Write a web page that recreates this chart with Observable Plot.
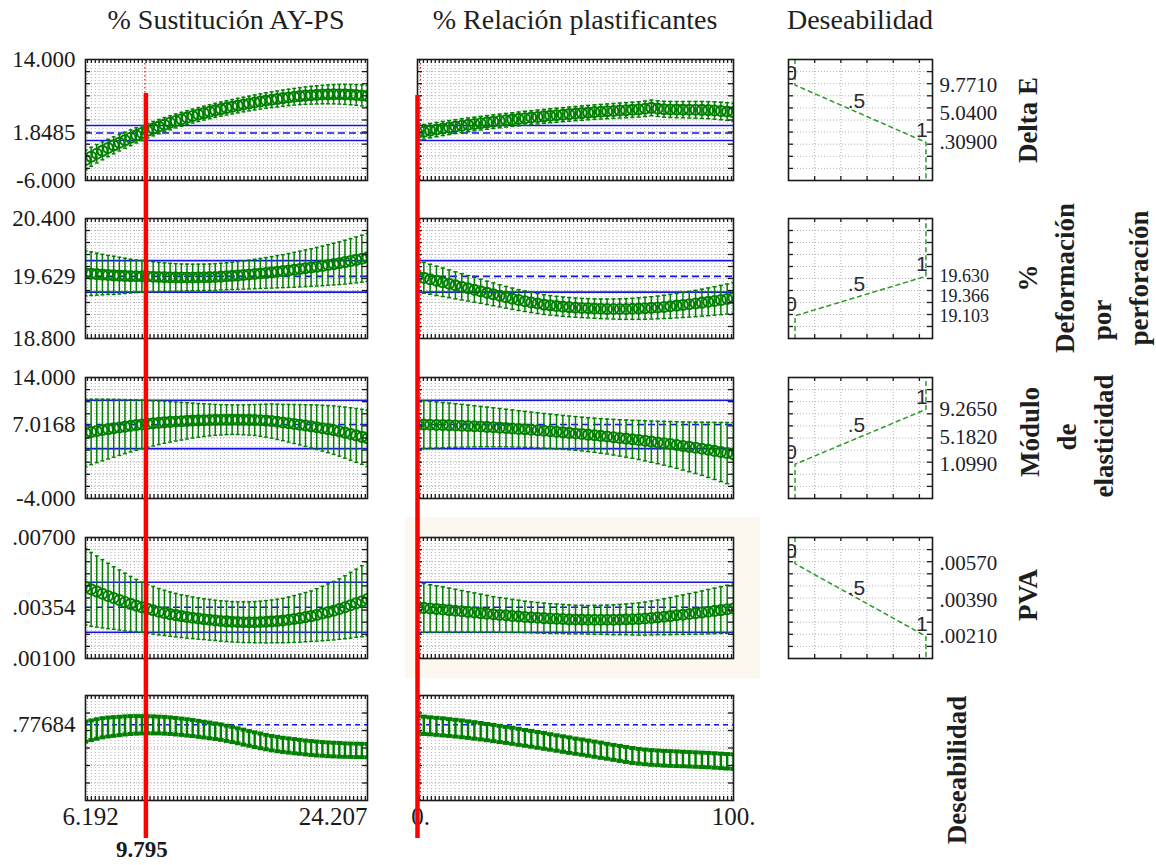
<!DOCTYPE html>
<html>
<head>
<meta charset="utf-8">
<script src="https://cdn.jsdelivr.net/npm/d3@7"></script>
<script src="https://cdn.jsdelivr.net/npm/@observablehq/plot@0.6"></script>
<style>
  body { margin: 0; background: #fff; }
  #fig { position: relative; width: 1156px; height: 865px; overflow: hidden; background: #fff;
         font-family: "Liberation Serif", "Times New Roman", serif; color: #1e1e1e; }
  #fig svg { position: absolute; overflow: visible; }
  .title { position: absolute; font-size: 28px; line-height: 1; white-space: nowrap; transform: translate(-50%, -50%); }
  .name { position: absolute; font-size: 27px; font-weight: bold; line-height: 1; white-space: nowrap;
          transform: translate(-50%, -50%) rotate(-90deg); }
  .highlight { position: absolute; background: #fdf8ef; }
</style>
</head>
<body>
<div id="fig"></div>
<script>
// ---- Factor settings of the profile ----
const sustLevels = [
  6.192, 6.552, 6.913, 7.273, 7.633, 7.994, 8.354, 8.714, 9.074, 9.435,
  9.795, 10.155, 10.516, 10.876, 11.236, 11.597, 11.957, 12.317, 12.677, 13.038,
  13.398, 13.758, 14.119, 14.479, 14.839, 15.200, 15.560, 15.920, 16.280, 16.641,
  17.001, 17.361, 17.722, 18.082, 18.442, 18.803, 19.163, 19.523, 19.883, 20.244,
  20.604, 20.964, 21.325, 21.685, 22.045, 22.406, 22.766, 23.126, 23.486, 23.847,
  24.207];
const relLevels = [
  0, 2, 4, 6, 8, 10, 12, 14, 16, 18,
  20, 22, 24, 26, 28, 30, 32, 34, 36, 38,
  40, 42, 44, 46, 48, 50, 52, 54, 56, 58,
  60, 62, 64, 66, 68, 70, 72, 74, 76, 78,
  80, 82, 84, 86, 88, 90, 92, 94, 96, 98,
  100];
const sustDomain = [6.192, 24.207];
const relDomain = [0, 100];
const sustCurrent = 9.795;
const relCurrent = 0;
const sustTickLabels = ["6.192", "24.207"];
const relTickLabels = ["0.", "100."];
const factorTitles = ["% Sustitución AY-PS", "% Relación plastificantes", "Deseabilidad"];

// ---- Responses ----
const responseNames = [["Delta E"], ["%", "Deformación", "por", "perforación"], ["Módulo", "de", "elasticidad"], ["PVA"], ["Deseabilidad"]];
const responseDomains = [[-6, 14], [18.8, 20.4], [-4, 14], [0.001, 0.007], [0.2, 1.0]];
const currentValues = [1.8485, 19.629, 7.0168, 0.00354, 0.77684];
const axisLabels = [["-6.000", "1.8485", "14.000"], ["18.800", "19.629", "20.400"], ["-4.000", "7.0168", "14.000"], [".00100", ".00354", ".00700"], [".77684"]];
const intervalLimits = [[0.62, 3.08], [19.419, 19.839], [3.42, 10.61], [0.0023, 0.00478], null];

// Desirability functions: response value at d = 0, .5, 1
const desirLimits = [[9.771, 5.04, 0.309], [19.103, 19.366, 19.63], [1.099, 5.182, 9.265], [0.0057, 0.0039, 0.0021]];
const desirLimitLabels = [["9.7710", "5.0400", ".30900"], ["19.103", "19.366", "19.630"], ["1.0990", "5.1820", "9.2650"], [".00570", ".00390", ".00210"]];
const desirLevels = [0, 0.5, 1];
const desirLevelLabels = ["0", ".5", "1"];

// ---- Predicted responses (mean and half-width of interval) ----
const deltaESust = [
  -2.60, -2.08, -1.58, -1.10, -0.64, -0.19, 0.24, 0.66, 1.06, 1.46,
  1.8485, 2.22, 2.57, 2.91, 3.23, 3.54, 3.84, 4.12, 4.39, 4.65,
  4.90, 5.14, 5.37, 5.59, 5.80, 6.00, 6.19, 6.38, 6.56, 6.73,
  6.90, 7.06, 7.21, 7.35, 7.48, 7.61, 7.73, 7.84, 7.94, 8.03,
  8.10, 8.16, 8.21, 8.24, 8.26, 8.26, 8.24, 8.20, 8.14, 8.06,
  7.96];
const deltaESustErr = [
  1.60, 1.56, 1.52, 1.48, 1.44, 1.40, 1.36, 1.32, 1.29, 1.26,
  1.23, 1.21, 1.19, 1.18, 1.17, 1.16, 1.15, 1.15, 1.15, 1.15,
  1.15, 1.15, 1.16, 1.16, 1.17, 1.18, 1.19, 1.20, 1.21, 1.22,
  1.24, 1.26, 1.28, 1.30, 1.32, 1.34, 1.36, 1.38, 1.41, 1.44,
  1.47, 1.50, 1.53, 1.56, 1.59, 1.62, 1.65, 1.68, 1.71, 1.74,
  1.77];
const deltaERel = [
  1.8485, 2.05, 2.24, 2.42, 2.59, 2.75, 2.91, 3.06, 3.20, 3.34,
  3.47, 3.60, 3.72, 3.84, 3.96, 4.07, 4.18, 4.29, 4.40, 4.50,
  4.60, 4.70, 4.79, 4.88, 4.97, 5.06, 5.14, 5.22, 5.30, 5.37,
  5.44, 5.50, 5.56, 5.62, 5.68, 5.75, 5.85, 6.00, 5.88, 5.78,
  5.74, 5.72, 5.71, 5.70, 5.69, 5.67, 5.63, 5.57, 5.49, 5.40,
  5.30];
const deltaERelErr = [
  1.23, 1.21, 1.19, 1.18, 1.17, 1.16, 1.15, 1.14, 1.14, 1.13,
  1.13, 1.13, 1.13, 1.13, 1.13, 1.13, 1.14, 1.14, 1.14, 1.15,
  1.15, 1.16, 1.16, 1.17, 1.17, 1.18, 1.19, 1.19, 1.20, 1.21,
  1.22, 1.23, 1.24, 1.25, 1.26, 1.27, 1.28, 1.29, 1.30, 1.31,
  1.33, 1.34, 1.35, 1.37, 1.38, 1.40, 1.41, 1.43, 1.45, 1.46,
  1.48];

const deformSust = [
  19.670, 19.664, 19.658, 19.652, 19.647, 19.642, 19.638, 19.635, 19.632, 19.630,
  19.629, 19.626, 19.623, 19.620, 19.618, 19.616, 19.615, 19.614, 19.614, 19.614,
  19.615, 19.616, 19.618, 19.621, 19.625, 19.630, 19.635, 19.641, 19.647, 19.653,
  19.660, 19.667, 19.674, 19.682, 19.690, 19.698, 19.707, 19.716, 19.726, 19.736,
  19.746, 19.757, 19.768, 19.780, 19.792, 19.804, 19.818, 19.833, 19.848, 19.864,
  19.880];
const deformSustErr = [
  0.300, 0.290, 0.280, 0.270, 0.260, 0.255, 0.245, 0.235, 0.225, 0.218,
  0.212, 0.206, 0.200, 0.195, 0.190, 0.186, 0.183, 0.180, 0.178, 0.177,
  0.176, 0.176, 0.176, 0.177, 0.178, 0.180, 0.182, 0.185, 0.188, 0.192,
  0.196, 0.200, 0.205, 0.210, 0.215, 0.220, 0.226, 0.232, 0.238, 0.244,
  0.250, 0.257, 0.264, 0.271, 0.278, 0.285, 0.292, 0.299, 0.306, 0.313,
  0.320];
const deformRel = [
  19.629, 19.609, 19.589, 19.569, 19.549, 19.529, 19.509, 19.489, 19.469, 19.449,
  19.429, 19.409, 19.389, 19.369, 19.349, 19.330, 19.313, 19.297, 19.281, 19.266,
  19.252, 19.242, 19.233, 19.225, 19.218, 19.212, 19.207, 19.203, 19.199, 19.196,
  19.194, 19.193, 19.193, 19.194, 19.196, 19.199, 19.203, 19.208, 19.214, 19.221,
  19.229, 19.238, 19.247, 19.257, 19.267, 19.278, 19.289, 19.301, 19.313, 19.326,
  19.340];
const deformRelErr = [
  0.210, 0.205, 0.200, 0.195, 0.190, 0.185, 0.180, 0.175, 0.170, 0.165,
  0.160, 0.156, 0.152, 0.148, 0.145, 0.142, 0.139, 0.137, 0.135, 0.133,
  0.131, 0.130, 0.129, 0.128, 0.128, 0.128, 0.128, 0.129, 0.130, 0.131,
  0.132, 0.134, 0.136, 0.138, 0.140, 0.143, 0.146, 0.149, 0.152, 0.155,
  0.159, 0.163, 0.167, 0.171, 0.175, 0.180, 0.185, 0.190, 0.195, 0.200,
  0.205];

const moduloSust = [
  5.75, 5.90, 6.05, 6.19, 6.32, 6.45, 6.57, 6.69, 6.81, 6.92,
  7.0168, 7.10, 7.18, 7.26, 7.33, 7.40, 7.45, 7.50, 7.55, 7.59,
  7.62, 7.65, 7.68, 7.70, 7.71, 7.72, 7.73, 7.72, 7.71, 7.70,
  7.68, 7.63, 7.58, 7.52, 7.41, 7.30, 7.19, 7.08, 6.97, 6.85,
  6.73, 6.60, 6.46, 6.32, 6.17, 6.00, 5.80, 5.60, 5.39, 5.17,
  4.95];
const moduloSustErr = [
  5.00, 4.86, 4.72, 4.58, 4.44, 4.30, 4.16, 4.02, 3.88, 3.74,
  3.60, 3.48, 3.36, 3.24, 3.12, 3.00, 2.90, 2.80, 2.70, 2.60,
  2.50, 2.43, 2.36, 2.30, 2.25, 2.22, 2.20, 2.20, 2.22, 2.26,
  2.30, 2.37, 2.45, 2.54, 2.62, 2.70, 2.80, 2.90, 3.00, 3.10,
  3.20, 3.30, 3.40, 3.50, 3.60, 3.70, 3.80, 3.90, 4.00, 4.10,
  4.20];
const moduloRel = [
  7.0168, 6.995, 6.97, 6.945, 6.92, 6.90, 6.86, 6.82, 6.78, 6.74,
  6.70, 6.65, 6.59, 6.54, 6.48, 6.42, 6.35, 6.29, 6.22, 6.15,
  6.08, 6.00, 5.92, 5.84, 5.76, 5.68, 5.59, 5.50, 5.41, 5.31,
  5.22, 5.12, 5.01, 4.91, 4.80, 4.70, 4.58, 4.46, 4.34, 4.22,
  4.10, 3.96, 3.82, 3.68, 3.54, 3.40, 3.24, 3.08, 2.92, 2.76,
  2.60];
const moduloRelErr = [
  3.60, 3.54, 3.48, 3.42, 3.36, 3.30, 3.24, 3.18, 3.12, 3.06,
  3.00, 2.95, 2.90, 2.85, 2.80, 2.75, 2.71, 2.67, 2.63, 2.60,
  2.57, 2.55, 2.53, 2.52, 2.51, 2.50, 2.51, 2.52, 2.54, 2.57,
  2.60, 2.65, 2.70, 2.76, 2.82, 2.90, 2.98, 3.07, 3.16, 3.26,
  3.36, 3.47, 3.58, 3.70, 3.82, 3.95, 4.10, 4.25, 4.40, 4.55,
  4.70];

const pvaSust = [
  .00455, .00443, .00432, .00421, .00410, .00400, .00390, .00380, .00371, .00362,
  .00354, .00346, .00339, .00332, .00326, .00320, .00315, .00310, .00306, .00302,
  .00298, .00295, .00292, .00289, .00286, .00284, .00282, .00281, .00280, .00280,
  .00280, .00281, .00282, .00284, .00286, .00288, .00292, .00296, .00300, .00305,
  .00310, .00316, .00323, .00330, .00337, .00345, .00354, .00364, .00374, .00384,
  .00395];
const pvaSustErr = [
  .00190, .00183, .00176, .00169, .00162, .00155, .00149, .00143, .00136, .00130,
  .00124, .00121, .00118, .00115, .00112, .00110, .00108, .00106, .00105, .00103,
  .00102, .00101, .00101, .00100, .00100, .00100, .00100, .00100, .00101, .00101,
  .00102, .00103, .00105, .00106, .00108, .00110, .00113, .00116, .00119, .00122,
  .00125, .00130, .00135, .00140, .00145, .00150, .00156, .00163, .00169, .00176,
  .00182];
const pvaRel = [
  .00354, .00351, .00348, .00345, .00343, .00340, .00337, .00334, .00331, .00328,
  .00325, .00322, .00319, .00316, .00314, .00311, .00309, .00306, .00304, .00302,
  .00300, .00298, .00297, .00296, .00294, .00293, .00293, .00292, .00292, .00292,
  .00292, .00292, .00293, .00294, .00295, .00296, .00298, .00301, .00304, .00307,
  .00310, .00314, .00317, .00321, .00324, .00328, .00332, .00336, .00340, .00344,
  .00348];
const pvaRelErr = [
  .00124, .00121, .00118, .00115, .00112, .00109, .00106, .00103, .00100, .00097,
  .00094, .00091, .00088, .00086, .00084, .00082, .00080, .00078, .00077, .00076,
  .00075, .00074, .00073, .00072, .00072, .00071, .00071, .00071, .00072, .00072,
  .00073, .00074, .00075, .00076, .00078, .00080, .00082, .00084, .00086, .00089,
  .00092, .00095, .00098, .00101, .00104, .00107, .00110, .00113, .00116, .00119,
  .00122];

const deseSust = [
  0.725, 0.735, 0.745, 0.754, 0.760, 0.764, 0.768, 0.772, 0.775, 0.776,
  0.77684, 0.777, 0.776, 0.775, 0.773, 0.770, 0.766, 0.762, 0.757, 0.752,
  0.746, 0.740, 0.734, 0.728, 0.721, 0.712, 0.703, 0.693, 0.683, 0.673,
  0.663, 0.654, 0.645, 0.637, 0.630, 0.624, 0.619, 0.614, 0.609, 0.604,
  0.600, 0.596, 0.593, 0.590, 0.588, 0.586, 0.584, 0.583, 0.582, 0.581,
  0.580];
const deseSustErr = [
  .076, .075, .074, .073, .072, .071, .070, .069, .068, .067,
  .066, .065, .065, .064, .064, .063, .063, .062, .062, .061,
  .061, .060, .060, .059, .059, .058, .058, .057, .057, .056,
  .056, .056, .055, .055, .055, .054, .054, .054, .053, .053,
  .053, .053, .052, .052, .052, .052, .051, .051, .051, .051,
  .051];
const deseRel = [
  0.77684, 0.773, 0.769, 0.765, 0.761, 0.756, 0.751, 0.746, 0.740, 0.734,
  0.728, 0.721, 0.714, 0.707, 0.700, 0.693, 0.685, 0.677, 0.670, 0.662,
  0.654, 0.646, 0.638, 0.630, 0.622, 0.614, 0.607, 0.599, 0.591, 0.583,
  0.575, 0.567, 0.559, 0.551, 0.543, 0.537, 0.532, 0.528, 0.525, 0.522,
  0.520, 0.518, 0.516, 0.514, 0.512, 0.510, 0.508, 0.505, 0.502, 0.499,
  0.496];
const deseRelErr = [
  .066, .066, .065, .065, .065, .064, .064, .064, .063, .063,
  .063, .062, .062, .062, .061, .061, .061, .060, .060, .060,
  .060, .059, .059, .059, .059, .058, .058, .058, .058, .058,
  .057, .057, .057, .057, .057, .056, .056, .056, .056, .056,
  .056, .056, .055, .055, .055, .055, .055, .055, .055, .055,
  .055];

const profiles = [
  [{mean: deltaESust, err: deltaESustErr}, {mean: deltaERel, err: deltaERelErr}],
  [{mean: deformSust, err: deformSustErr}, {mean: deformRel, err: deformRelErr}],
  [{mean: moduloSust, err: moduloSustErr}, {mean: moduloRel, err: moduloRelErr}],
  [{mean: pvaSust, err: pvaSustErr}, {mean: pvaRel, err: pvaRelErr}],
  [{mean: deseSust, err: deseSustErr}, {mean: deseRel, err: deseRelErr}]
];

const factors = [
  {levels: sustLevels, domain: sustDomain, current: sustCurrent, tickLabels: sustTickLabels, gridStep: 0.25, currentLabel: d3.format(".3f"), cursorDx: 4},
  {levels: relLevels, domain: relDomain, current: relCurrent, tickLabels: relTickLabels, gridStep: 1.25, currentLabel: null, cursorDx: 0}
];

// ---- Layout ----
const GREEN = "#008000", BLUE = "#1414e8", RED = "#ff0000", INK = "#1a1a1a", GRID = "#b2b2b2";
const SERIF = "'Liberation Serif', 'Times New Roman', serif";
const cols = [{left: 85, width: 282}, {left: 417, width: 316}, {left: 788, width: 144}];
const rows = [{top: 59, height: 121}, {top: 218, height: 120}, {top: 377, height: 121}, {top: 537, height: 121}, {top: 695, height: 105}];
const cursor = {top: [93, 95], bottom: 838, labelY: 849};
const M = {l: 95, r: 110, t: 20, b: 70};
// right-hand limit labels: the tightly spaced row uses a smaller size
const limitFontSize = [21, 18, 21, 21];
const fig = document.getElementById("fig");

function place(node, left, top) {
  node.style.left = left + "px";
  node.style.top = top + "px";
  fig.appendChild(node);
}

function panelPlot(col, row, xDomain, yDomain, marks) {
  const c = cols[col], r = rows[row];
  const svg = Plot.plot({
    width: c.width + M.l + M.r, height: r.height + M.t + M.b,
    marginLeft: M.l, marginRight: M.r, marginTop: M.t, marginBottom: M.b,
    x: {domain: xDomain, axis: null}, y: {domain: yDomain, axis: null},
    style: {background: "transparent", fontFamily: SERIF, overflow: "visible", color: INK},
    marks
  });
  place(svg, c.left - M.l, r.top - M.t);
}

function rowGrid(row) {
  const [a, b] = responseDomains[row];
  const n = row === 4 ? 6 : 10;
  return d3.range(1, n).map(k => a + k * (b - a) / n);
}

function edgeTicks(xs, ys, w, h) {
  return [
    Plot.tickX(xs, {insetBottom: h - 4, stroke: INK, strokeWidth: 1.3}),
    Plot.tickX(xs, {insetTop: h - 4, stroke: INK, strokeWidth: 1.3}),
    Plot.tickY(ys, {insetLeft: w - 5, stroke: INK, strokeWidth: 1.3}),
    Plot.tickY(ys, {insetRight: w - 5, stroke: INK, strokeWidth: 1.3})
  ];
}

// Highlighted cell behind the PVA / plasticizer panel
const hl = document.createElement("div");
hl.className = "highlight";
hl.style.width = "355px"; hl.style.height = "161px";
place(hl, 405, 517);

// Column titles
factorTitles.forEach((t, i) => {
  const d = document.createElement("div");
  d.className = "title";
  d.textContent = t;
  place(d, cols[i].left + cols[i].width / 2, 20);
});

// Profile panels
for (let row = 0; row < 5; row++) {
  for (let col = 0; col < 2; col++) {
    const f = factors[col];
    const yDom = responseDomains[row];
    const w = cols[col].width, h = rows[row].height;
    const {mean, err} = profiles[row][col];
    const pts = f.levels.map((x, i) => ({x, y: mean[i], lo: mean[i] - err[i], hi: mean[i] + err[i]}));
    const step = f.levels[1] - f.levels[0];
    const isDes = row === 4;
    const gx = d3.range(f.domain[0] + f.gridStep / 2, f.domain[1], f.gridStep);
    const gy = rowGrid(row);
    const capHalf = step * (isDes ? 0.5 : 0.34);

    const marks = [
      Plot.frame({fill: "white"}),
      Plot.ruleX(gx, {stroke: GRID, strokeDasharray: "1,2"}),
      Plot.ruleY(gy, {stroke: GRID, strokeDasharray: "1,2"})
    ];
    if (intervalLimits[row]) marks.push(Plot.ruleY(intervalLimits[row], {stroke: BLUE, strokeWidth: 1.6}));
    marks.push(Plot.ruleY([currentValues[row]], {stroke: BLUE, strokeWidth: 1.6, strokeDasharray: isDes ? "5,4" : "7,4"}));
    marks.push(Plot.ruleX([f.current], {stroke: RED, strokeWidth: 1.2, strokeDasharray: "1.5,2.5", dx: 3}));
    marks.push(Plot.ruleX(pts, {x: "x", y1: "lo", y2: "hi", stroke: GREEN, strokeWidth: isDes ? 2.4 : 1.5, clip: true}));
    for (const k of ["lo", "hi"]) {
      marks.push(Plot.link(pts, {x1: d => d.x - capHalf, x2: d => d.x + capHalf, y1: k, y2: k,
        stroke: GREEN, strokeWidth: isDes ? 4 : 1.5, clip: true}));
    }
    if (!isDes) marks.push(Plot.dot(pts, {x: "x", y: "y", r: 5, stroke: GREEN, strokeWidth: 2.1, clip: true}));
    marks.push(Plot.frame({stroke: INK, strokeWidth: 1.6}));
    marks.push(...edgeTicks(gx, gy, w, h));

    if (col === 0) {
      const ticks = isDes ? [currentValues[row]] : [yDom[0], currentValues[row], yDom[1]];
      marks.push(Plot.text(ticks, {y: d => d, text: (d, i) => axisLabels[row][i], frameAnchor: "left",
        textAnchor: "end", dx: -10, fontSize: 23, fill: INK}));
    }
    if (isDes) {
      marks.push(Plot.text([f.domain[0]], {x: d => d, text: () => f.tickLabels[0], frameAnchor: "bottom",
        dy: 24, textAnchor: "middle", dx: col === 0 ? 5 : 3, fontSize: 25, fill: INK}));
      marks.push(Plot.text([f.domain[1]], {x: d => d, text: () => f.tickLabels[1], frameAnchor: "bottom",
        dy: 24, textAnchor: col === 0 ? "end" : "middle", fontSize: 25, fill: INK}));
    }
    panelPlot(col, row, f.domain, yDom, marks);
  }
}

// Desirability function panels
const desirGrid = [0.15, 0.35, 0.55, 0.75, 0.95];
for (let row = 0; row < 4; row++) {
  const yDom = responseDomains[row];
  const w = cols[2].width, h = rows[row].height;
  const [v0, vm, v1] = desirLimits[row];
  const edge0 = v0 > v1 ? yDom[1] : yDom[0];
  const edge1 = v0 > v1 ? yDom[0] : yDom[1];
  const curve = [{d: 0, y: edge0}, {d: 0, y: v0}, {d: 1, y: v1}, {d: 1, y: edge1}];
  const gy = rowGrid(row);
  const marks = [
    Plot.frame({fill: "white"}),
    Plot.ruleX(desirGrid, {stroke: GRID, strokeDasharray: "1,2"}),
    Plot.ruleY(gy, {stroke: GRID, strokeDasharray: "1,2"}),
    Plot.line(curve, {x: "d", y: "y", stroke: "#2a9a2a", strokeWidth: 1.5, strokeDasharray: "4,4"}),
    Plot.text(desirLevels, {x: d => d, y: (d, i) => desirLimits[row][i], text: (d, i) => desirLevelLabels[i],
      dx: -4, dy: -12, fontSize: 21, fill: "#2b2b2b", fontFamily: "'Liberation Sans', Arial, sans-serif", clip: true}),
    Plot.frame({stroke: INK, strokeWidth: 1.6}),
    ...edgeTicks(desirGrid, gy, w, h),
    Plot.text(desirLimits[row], {y: d => d, text: (d, i) => desirLimitLabels[row][i], frameAnchor: "right",
      textAnchor: "start", dx: 7, fontSize: limitFontSize[row], fill: "#1d1d2b"})
  ];
  panelPlot(2, row, [-0.05, 1.05], yDom, marks);
}

// Response names, rotated, one column per line
const nameLayout = [
  {x: 1028, y: [120]},
  {x: 1028, y: [278, 278, 320, 278]},
  {x: 1030, y: [432, 437, 436]},
  {x: 1028, y: [595]},
  {x: 957, y: [770]}
];
const nameGap = 37;
responseNames.forEach((lines, row) => {
  const L = nameLayout[row];
  lines.forEach((line, k) => {
    const s = document.createElement("div");
    s.className = "name";
    s.textContent = line;
    place(s, L.x + k * nameGap, L.y[k]);
  });
});

// Current factor settings: red cursor lines across all rows
factors.forEach((f, col) => {
  const c = cols[col];
  const marks = [
    Plot.ruleX([f.current], {x: d => d, y1: cursor.top[col], y2: cursor.bottom, stroke: RED, strokeWidth: 4.5, dx: f.cursorDx})
  ];
  if (f.currentLabel) {
    marks.push(Plot.text([f.current], {x: d => d, y: cursor.labelY, text: d => f.currentLabel(d),
      fontWeight: "bold", fontSize: 23, dx: 0, fill: INK}));
  }
  const svg = Plot.plot({
    width: c.width + M.l + M.r, height: 865,
    marginLeft: M.l, marginRight: M.r, marginTop: 0, marginBottom: 0,
    x: {domain: f.domain, axis: null}, y: {domain: [0, 865], range: [0, 865], axis: null},
    style: {background: "transparent", fontFamily: SERIF, overflow: "visible"},
    marks
  });
  svg.style.pointerEvents = "none";
  place(svg, c.left - M.l, 0);
});
</script>
</body>
</html>
